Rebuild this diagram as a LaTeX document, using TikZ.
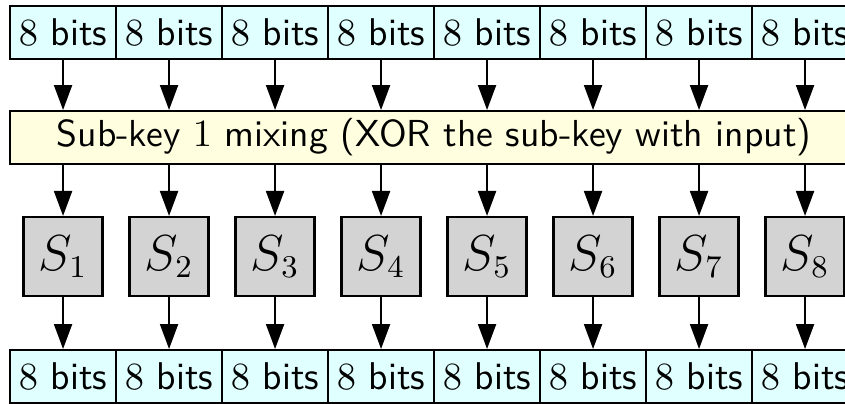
\documentclass[tikz,border=0pt]{standalone}
\usepackage{tikz}
\usetikzlibrary{positioning,arrows.meta}
\definecolor{bitfill}{HTML}{E0FFFF}
\definecolor{mixfill}{HTML}{FFFFE0}
\definecolor{sboxfill}{HTML}{D3D3D3}
\begin{document}
\begin{tikzpicture}[
  font=\sffamily\fontsize{11}{13}\selectfont,
  bits/.style={draw, semithick, fill=bitfill, minimum width=1.06cm, minimum height=0.53cm,
               inner sep=0pt, anchor=north west},
  mixbox/.style={draw, semithick, fill=mixfill, minimum width=8.48cm, minimum height=0.53cm,
                 inner sep=0pt, anchor=north west, font=\sffamily\fontsize{10.7}{13}\selectfont},
  sbox/.style={draw, semithick, fill=sboxfill, minimum size=0.79cm, inner sep=0pt,
               font=\fontsize{13.5}{15}\selectfont},
  arr/.style={-{Triangle[length=2.5mm,width=1.8mm]}, semithick},
]
  \useasboundingbox (0,0) rectangle (8.45,-4.03);
  % ---- sub-key mixing stage ------------------------------------------------
  \node[mixbox] (mix) at (0.09,-1.10) {Sub-key $1$ mixing (XOR the sub-key with input)};
  \coordinate (srow) at (0,-2.565);
  % ---- input blocks, S-boxes, output blocks --------------------------------
  \foreach \i in {1,...,8} {
    \node[bits] (in\i) at ({0.09+1.06*(\i-1)},-0.05) {$8$ bits};
    \node[sbox] (s\i) at (in\i.south |- srow) {$S_{\i}$};
    \node[bits] (out\i) at ({0.09+1.06*(\i-1)},-3.49) {$8$ bits};
    \draw[arr] (in\i.south) -- (in\i.south |- mix.north);
    \draw[arr] (in\i.south |- mix.south) -- (s\i.north);
    \draw[arr] (s\i.south) -- (out\i.north);
  }
\end{tikzpicture}
\end{document}
